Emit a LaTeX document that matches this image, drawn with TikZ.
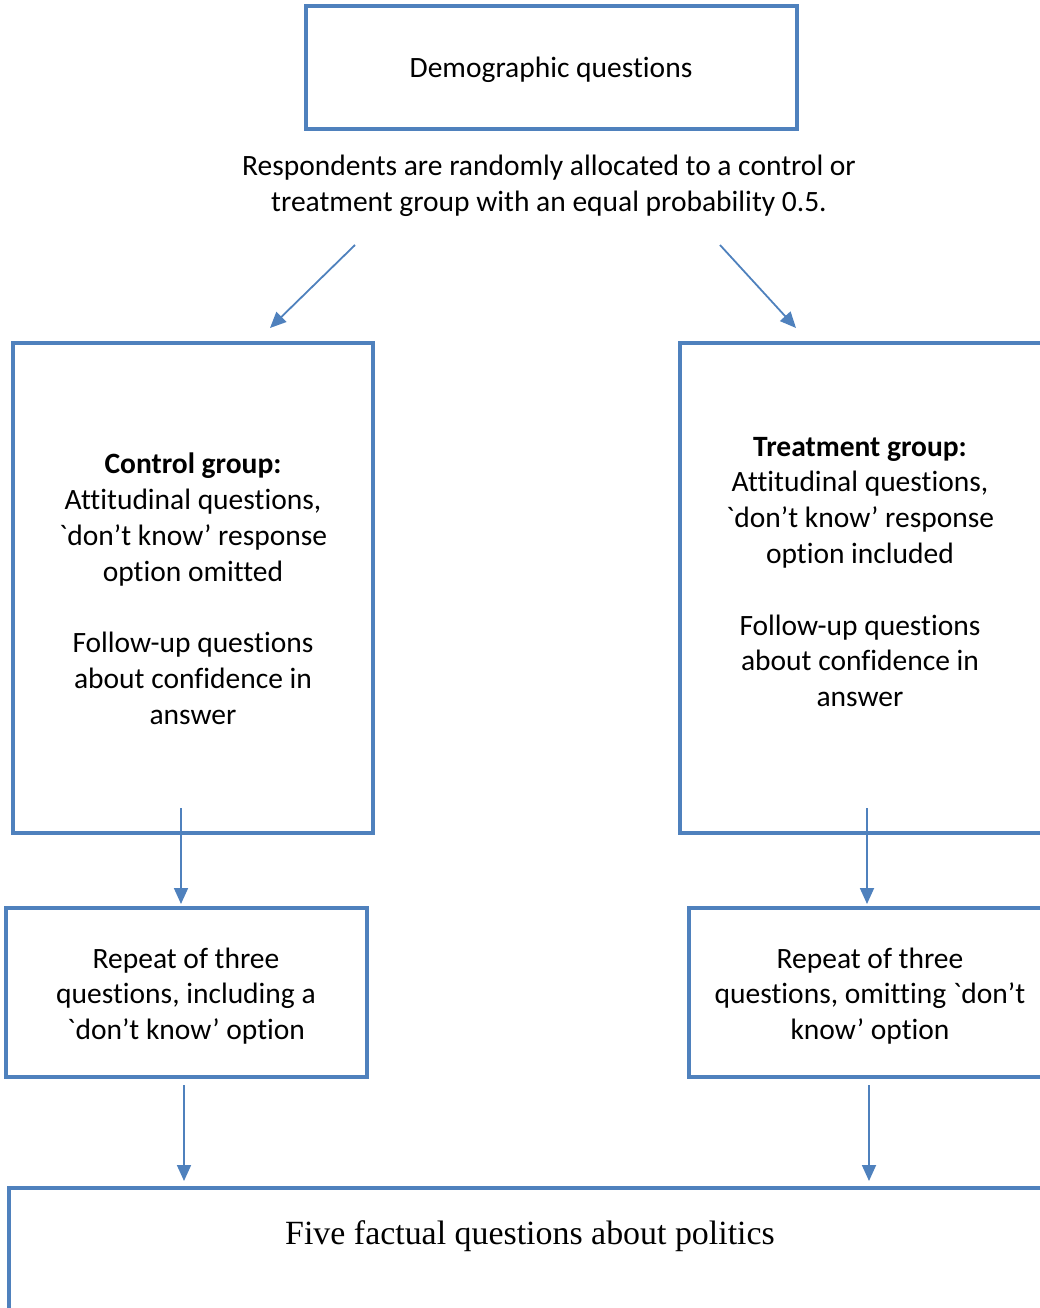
\documentclass[tikz,border=0pt]{standalone}
\usepackage{fontspec}
\newfontfamily\carfont{Carlito}[Ligatures=NoCommon]
\newfontfamily\serfont{Liberation Serif}
\usetikzlibrary{arrows.meta}
\definecolor{wblue}{HTML}{4F81BD}
\tikzset{
  x=1pt,y=-1pt,
  boxline/.style={draw=wblue,line width=4.5pt},
  txt/.style={font=\carfont\fontsize{29.5}{35.8}\selectfont,align=center,inner sep=0pt},
  conn/.style={draw=wblue,line width=1.8pt,-{Triangle[length=16pt,width=14pt]}}
}
\begin{document}
\begin{tikzpicture}
\clip (0,0) rectangle (1040,1308);
% boxes
\draw[boxline] (306,6) rectangle (797,129);
\draw[boxline] (13,343) rectangle (373,833);
\draw[boxline] (680,343) rectangle (1060,833);
\draw[boxline] (6,908) rectangle (367,1077);
\draw[boxline] (689,908) rectangle (1060,1077);
\draw[boxline] (9,1188) rectangle (1060,1340);
% texts
\node[txt] (demo) at (551,70) {Demographic questions};
\node[txt] (rand) at (549,186) {Respondents are randomly allocated to a control or\\treatment group with an equal probability 0.5.};
\node[txt] (ctrl) at (193,589) {\textbf{Control group:}\\Attitudinal questions,\\`don’t know’ response\\option omitted\\[35.8pt]Follow-up questions\\about confidence in\\answer};
\node[txt] (treat) at (860,572) {\textbf{Treatment group:}\\Attitudinal questions,\\`don’t know’ response\\option included\\[35.8pt]Follow-up questions\\about confidence in\\answer};
\node[txt] (repL) at (186,996) {Repeat of three\\questions, including a\\`don’t know’ option};
\node[txt] (repR) at (870,996) {Repeat of three\\questions, omitting `don’t\\know’ option};
\node[font=\serfont\fontsize{33.9}{40}\selectfont,inner sep=0pt] (five) at (530,1236) {Five factual questions about politics};
% connector end points
\coordinate (a1s) at (355,245); \coordinate (a1e) at (270,328);
\coordinate (a2s) at (720,245); \coordinate (a2e) at (796,328);
\coordinate (b1s) at (181,808); \coordinate (b1e) at (181,904);
\coordinate (b2s) at (867,808); \coordinate (b2e) at (867,904);
\coordinate (c1s) at (184,1085); \coordinate (c1e) at (184,1181);
\coordinate (c2s) at (869,1085); \coordinate (c2e) at (869,1181);
\draw[conn] (a1s) -- (a1e);
\draw[conn] (a2s) -- (a2e);
\draw[conn] (b1s) -- (b1e);
\draw[conn] (b2s) -- (b2e);
\draw[conn] (c1s) -- (c1e);
\draw[conn] (c2s) -- (c2e);
\end{tikzpicture}
\end{document}
